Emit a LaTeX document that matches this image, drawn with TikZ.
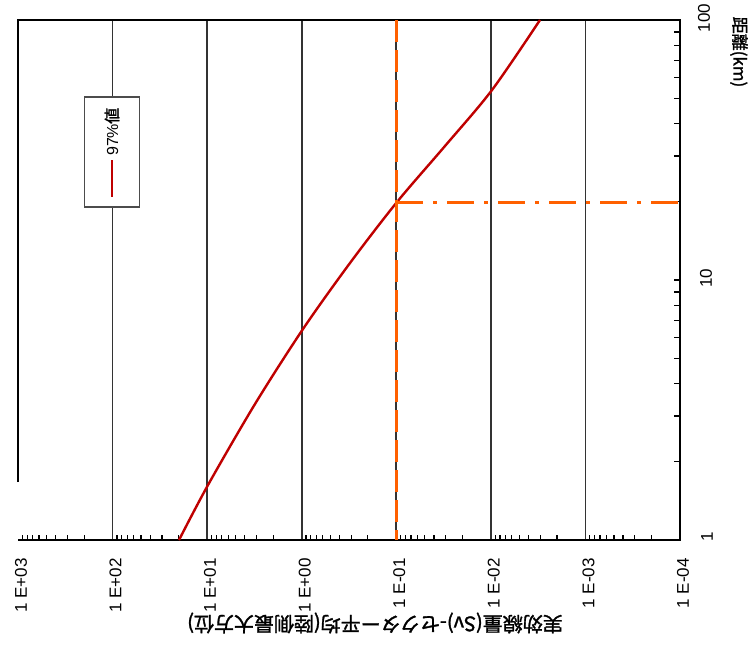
\documentclass[tikz,border=0pt]{standalone}
\usepackage{fontspec}
\setmainfont{Liberation Sans}
\newfontfamily\jpfont{Noto Sans CJK JP}[FakeBold=1.5]

\begin{document}
\begin{tikzpicture}[x=1pt,y=-1pt,
  grid/.style={draw=black!80,line width=1.8pt},
  frame/.style={draw=black,line width=2.8pt},
  tick/.style={draw=black,line width=1.2pt},
  dose/.style={draw=red!75!black,line width=2.4pt},
  mark97/.style={draw=orange!75!red,line width=3pt},
  lbl/.style={font=\fontsize{17}{17}\selectfont,inner sep=0pt,rotate=90}]
\useasboundingbox (0,0) rectangle (751,653);

% decade grid
\foreach \i in {1,...,6}
  \draw[grid] (18+94.57*\i,20) -- (18+94.57*\i,540);

% minor ticks
\foreach \k in {0,...,6}
  \foreach \m in {2,...,9}
    \draw[tick] ({18+94.57*(\k+1-log10(\m))},540) -- ++(0,-5);
\foreach \j in {0,1}
  \foreach \m in {2,...,9}
    \draw[tick] (680,{540-260*(\j+log10(\m))}) -- ++(-6,0);
\draw[tick] (680,280) -- ++(-6,0);

% frame
\draw[frame] (18,482) -- (18,20) -- (680,20) -- (680,540) -- (18,540);

% 97% curve
\draw[dose] plot[smooth,tension=0.5] coordinates {(179,540) (208,485) (255,404)
  (303,329) (350,263) (397,202) (445,146) (492,90) (540,20)};

% reading at 1E-01
\draw[mark97,dash pattern=on 22pt off 8pt] (396.3,20) -- (396.3,540);
\draw[mark97,dash pattern=on 27pt off 10pt on 4pt off 10pt] (396.3,202) -- (680,202);

% legend
\node[draw=black!70,line width=1.5pt,fill=white,minimum width=55pt,
  minimum height=110pt,inner sep=0pt] (legend) at (112,152) {};
\draw[dose] (112,160) -- (112,197);
\node[lbl,anchor=west,font=\fontsize{16}{16}\selectfont] (key) at (112,156) {97\%\jpfont 値};

% dose axis
\foreach \i/\t in {0/1 E+03,1/1 E+02,2/1 E+01,3/1 E+00,4/1 E-01,5/1 E-02,6/1 E-03,7/1 E-04}
  \node[lbl,anchor=east] (x\i) at (21+94.57*\i,558) {\t};
\node[font=\jpfont\fontsize{20}{20}\selectfont,rotate=180] (xlab) at (375,623)
  {実効線量(Sv)-セクター平均(陸側最大方位)};

% distance axis
\node[lbl] (y100) at (704,18) {100};
\node[lbl] (y10) at (706,278) {10};
\node[lbl] (y1) at (707,537) {1};
\node[font=\jpfont\fontsize{17}{17}\selectfont,rotate=-90] (ylab) at (739,52) {距離(km)};
\end{tikzpicture}
\end{document}
